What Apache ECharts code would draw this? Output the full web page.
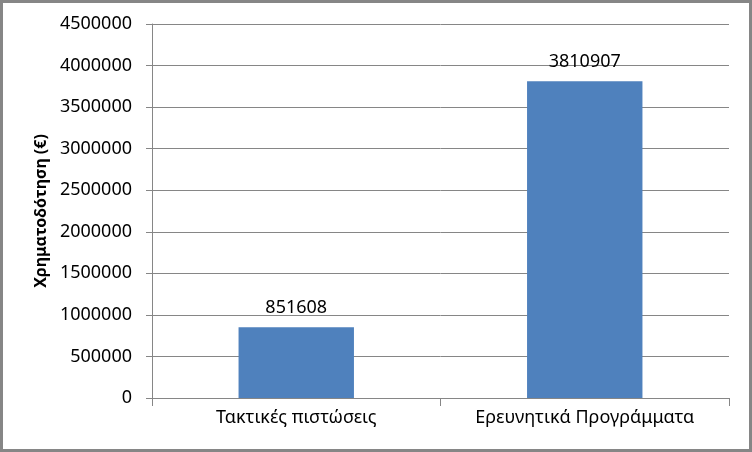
<!DOCTYPE html>
<html>
<head>
    <meta charset="utf-8">
    <title>ECharts</title>
    <script src="https://cdn.jsdelivr.net/npm/echarts@6/dist/echarts.min.js"></script>
    <style>
        html, body { margin: 0; padding: 0; background: #fff; }
    </style>
</head>
<body>
    <div id="main" style="width: 752px;height:452px;"></div>
    <script type="text/javascript">
        // data
        var categories = ['Τακτικές πιστώσεις', 'Ερευνητικά Προγράμματα'];
        var funding = [851608, 3810907];
        var yName = 'Χρηματοδότηση (€)';

        var myChart = echarts.init(document.getElementById('main'));

        var grey = '#868686';
        var font = 'Noto Sans';

        var option = {
            backgroundColor: '#fff',
            animation: false,
            graphic: [{
                type: 'rect',
                shape: { x: 1.5, y: 1.5, width: 749, height: 449 },
                style: { fill: 'none', stroke: grey, lineWidth: 3 },
                silent: true
            }],
            grid: {
                left: 152,
                right: 23,
                top: 24,
                bottom: 54
            },
            xAxis: {
                type: 'category',
                data: categories,
                axisLine: { lineStyle: { color: grey, width: 1 } },
                axisTick: { show: true, length: 8, alignWithLabel: false, lineStyle: { color: grey } },
                axisLabel: { color: '#000', fontFamily: font, fontSize: 18, margin: 11 },
                splitLine: { show: false }
            },
            yAxis: {
                type: 'value',
                min: 0,
                max: 4500000,
                interval: 500000,
                name: yName,
                nameLocation: 'middle',
                nameGap: 100,
                nameTextStyle: { color: '#000', fontFamily: font, fontSize: 16, fontWeight: 'bold' },
                axisLine: { show: true, lineStyle: { color: grey, width: 1 } },
                axisTick: { show: true, length: 6, lineStyle: { color: grey } },
                axisLabel: {
                    color: '#000', fontFamily: font, fontSize: 18, margin: 20,
                    formatter: function (v) { return String(v); }
                },
                splitLine: { show: true, lineStyle: { color: grey, width: 1 } }
            },
            series: [{
                type: 'bar',
                data: funding,
                barWidth: '40%',
                itemStyle: { color: '#4F81BD' },
                label: {
                    show: true,
                    position: 'top',
                    distance: 10,
                    color: '#000',
                    fontFamily: font,
                    fontSize: 18
                }
            }]
        };

        myChart.setOption(option);
    </script>
</body>
</html>
